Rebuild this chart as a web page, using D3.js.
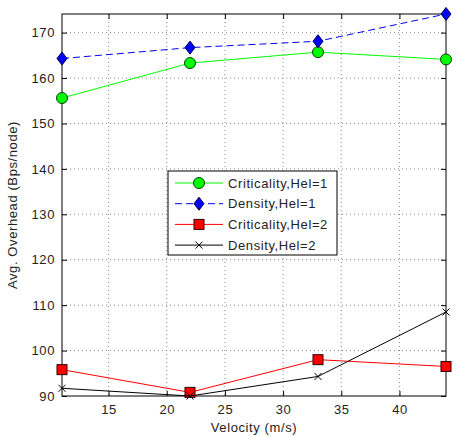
<!DOCTYPE html>
<html>
<head>
<meta charset="utf-8">
<script src="https://cdn.jsdelivr.net/npm/d3@7"></script>
<style>
  body { margin: 0; background: #fff; }
  svg { display: block; font-family: "Liberation Sans", Arial, sans-serif; }
  text { letter-spacing: 0.6px; }
</style>
</head>
<body>
<svg id="chart"></svg>
<script>
// data
let velocity = [11, 22, 33, 44]
let critHel1 = [155.6, 163.3, 165.7, 164.1]
let densHel1 = [164.3, 166.7, 168.1, 174.1]
let critHel2 = [95.8, 90.8, 98.0, 96.5]
let densHel2 = [91.7, 90.0, 94.3, 108.5]
let xTicks = [15, 20, 25, 30, 35, 40]
let yTicks = [90, 100, 110, 120, 130, 140, 150, 160, 170]
let seriesNames = ["Criticality,Hel=1", "Density,Hel=1", "Criticality,Hel=2", "Density,Hel=2"]

let W = 460, H = 437
let margin = { top: 14, right: 14, bottom: 41, left: 62 },
    width = W - margin.left - margin.right,
    height = H - margin.top - margin.bottom

let x = d3.scaleLinear().domain([11, 44]).range([0, width])
let y = d3.scaleLinear().domain([90, 174.1]).range([height, 0])

let svg = d3.select("#chart").attr("width", W).attr("height", H)
let g = svg.append("g").attr("transform", "translate(" + margin.left + "," + margin.top + ")")

// dotted grid
g.append("g").selectAll("line").data(xTicks).join("line")
    .attr("x1", d => x(d)).attr("x2", d => x(d))
    .attr("y1", 0).attr("y2", height)
    .attr("stroke", "#8a8a8a").attr("stroke-width", 1).attr("stroke-dasharray", "1,3")
g.append("g").selectAll("line").data(yTicks.filter(d => d > 90)).join("line")
    .attr("x1", 0).attr("x2", width)
    .attr("y1", d => y(d)).attr("y2", d => y(d))
    .attr("stroke", "#8a8a8a").attr("stroke-width", 1).attr("stroke-dasharray", "1,3")

// axes, MATLAB style inward ticks
let xAxis = g.append("g").attr("transform", "translate(0," + height + ")")
    .call(d3.axisBottom(x).tickValues(xTicks).tickSize(-5).tickPadding(9))
let xTop = g.append("g").call(d3.axisTop(x).tickValues(xTicks).tickSize(-5).tickFormat(""))
let yAxis = g.append("g").call(d3.axisLeft(y).tickValues(yTicks).tickSize(-5).tickPadding(7))
let yRight = g.append("g").attr("transform", "translate(" + width + ",0)")
    .call(d3.axisRight(y).tickValues(yTicks).tickSize(-5).tickFormat(""))
;[xAxis, xTop, yAxis, yRight].forEach(a => {
    a.select(".domain").remove()
    a.selectAll("line").attr("stroke", "#000")
    a.selectAll("text").attr("fill", "#222").style("font-size", "13px")
        .style("font-family", "'Liberation Sans', Arial, sans-serif")
})
g.append("rect").attr("width", width).attr("height", height)
    .attr("fill", "none").attr("stroke", "#000").attr("stroke-width", 1)

// series
let series = [
    { name: seriesNames[0], values: critHel1, color: "#00ff00", dash: null, marker: "circle", fill: "#00ff00" },
    { name: seriesNames[1], values: densHel1, color: "#0000ff", dash: "7,4", marker: "diamond", fill: "#0000ff" },
    { name: seriesNames[2], values: critHel2, color: "#ff0000", dash: null, marker: "square", fill: "#ff0000" },
    { name: seriesNames[3], values: densHel2, color: "#000000", dash: null, marker: "cross", fill: "none" }
]

let line = d3.line().x(d => x(d[0])).y(d => y(d[1]))

function drawMarker(sel, s, cx, cy) {
    if (s.marker === "circle") {
        sel.append("circle").attr("cx", cx).attr("cy", cy).attr("r", 5.5)
            .attr("fill", s.fill).attr("stroke", "#0a3a0a").attr("stroke-width", 1)
    } else if (s.marker === "diamond") {
        sel.append("path")
            .attr("d", "M" + cx + "," + (cy - 6.5) + "L" + (cx + 5) + "," + cy + "L" + cx + "," + (cy + 6.5) + "L" + (cx - 5) + "," + cy + "Z")
            .attr("fill", s.fill).attr("stroke", "#000050").attr("stroke-width", 1)
    } else if (s.marker === "square") {
        sel.append("rect").attr("x", cx - 5).attr("y", cy - 5).attr("width", 10).attr("height", 10)
            .attr("fill", s.fill).attr("stroke", "#300000").attr("stroke-width", 1)
    } else {
        sel.append("path")
            .attr("d", "M" + (cx - 3.5) + "," + (cy - 3.5) + "L" + (cx + 3.5) + "," + (cy + 3.5) +
                "M" + (cx - 3.5) + "," + (cy + 3.5) + "L" + (cx + 3.5) + "," + (cy - 3.5))
            .attr("stroke", "#000").attr("stroke-width", 1).attr("fill", "none")
    }
}

series.forEach(s => {
    let pts = velocity.map((v, i) => [v, s.values[i]])
    g.append("path").datum(pts)
        .attr("d", line)
        .attr("fill", "none")
        .attr("stroke", s.color)
        .attr("stroke-width", 1)
        .attr("stroke-dasharray", s.dash)
    let mg = g.append("g")
    pts.forEach(p => drawMarker(mg, s, x(p[0]), y(p[1])))
})

// legend
let legend = svg.append("g").attr("transform", "translate(168,171)")
legend.append("rect").attr("width", 169).attr("height", 84)
    .attr("fill", "#fff").attr("stroke", "#000").attr("stroke-width", 1)
series.forEach((s, i) => {
    let ly = 12 + i * 20.7
    legend.append("line").attr("x1", 7).attr("x2", 55).attr("y1", ly).attr("y2", ly)
        .attr("stroke", s.color).attr("stroke-width", 1).attr("stroke-dasharray", s.dash)
    drawMarker(legend, s, 31, ly)
    legend.append("text").attr("x", 60).attr("y", ly).attr("dy", "0.36em")
        .attr("fill", "#222").style("font-size", "13px").text(s.name)
})

// axis labels
svg.append("text")
    .attr("x", margin.left + width / 2).attr("y", 432)
    .attr("text-anchor", "middle").attr("fill", "#222").style("font-size", "13px")
    .text("Velocity (m/s)")
svg.append("text")
    .attr("transform", "translate(17," + (margin.top + height / 2) + ") rotate(-90)")
    .attr("text-anchor", "middle").attr("fill", "#222").style("font-size", "13px")
    .text("Avg. Overhead (Bps/node)")
</script>
</body>
</html>
